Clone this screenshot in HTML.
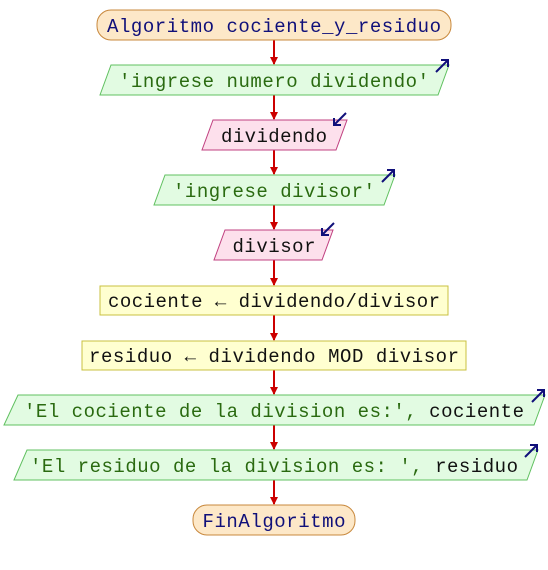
<!DOCTYPE html>
<html><head><meta charset="utf-8"><style>body{margin:0;background:#fff}svg{display:block}text{font-family:"Liberation Mono","DejaVu Sans Mono",monospace;font-size:19px;dominant-baseline:central;text-anchor:middle}</style></head><body>
<svg width="548" height="570" viewBox="0 0 548 570" xmlns="http://www.w3.org/2000/svg">
<defs><marker id="a" markerWidth="8" markerHeight="8" refX="7" refY="4" orient="auto" markerUnits="userSpaceOnUse"><path d="M0,0L8,4L0,8z" fill="#c00"/></marker></defs>
<g stroke="#c00" stroke-width="2" marker-end="url(#a)">
<line x1="274" y1="40" x2="274" y2="64"/><line x1="274" y1="95" x2="274" y2="119"/><line x1="274" y1="150" x2="274" y2="174"/><line x1="274" y1="205" x2="274" y2="229"/><line x1="274" y1="260" x2="274" y2="285"/><line x1="274" y1="315" x2="274" y2="340"/><line x1="274" y1="370" x2="274" y2="394"/><line x1="274" y1="425" x2="274" y2="449"/><line x1="274" y1="480" x2="274" y2="504"/>
</g>
<rect x="97" y="10" width="354" height="30" rx="14" fill="#fde8c8" stroke="#c8883c"/>
<text x="274" y="27" fill="#10107a" textLength="334" lengthAdjust="spacing">Algoritmo cociente_y_residuo</text>
<polygon points="111,65 449,65 438,95 100,95" fill="#e2fbe2" stroke="#60c060"/>
<text x="274" y="82" fill="#2a6a10" textLength="310" lengthAdjust="spacing">'ingrese numero dividendo'</text>
<polygon points="213,120 347,120 336,150 202,150" fill="#fde0ec" stroke="#c04080"/>
<text x="274" y="137" fill="#111" textLength="106" lengthAdjust="spacing">dividendo</text>
<polygon points="165,175 395,175 384,205 154,205" fill="#e2fbe2" stroke="#60c060"/>
<text x="274" y="192" fill="#2a6a10" textLength="202" lengthAdjust="spacing">'ingrese divisor'</text>
<polygon points="225,230 333,230 322,260 214,260" fill="#fde0ec" stroke="#c04080"/>
<text x="274" y="247" fill="#111" textLength="83" lengthAdjust="spacing">divisor</text>
<rect x="100" y="286" width="348" height="29" fill="#ffffd0" stroke="#c8c040"/>
<text x="274" y="302" fill="#111" textLength="332" lengthAdjust="spacing">cociente ← dividendo/divisor</text>
<rect x="82" y="341" width="384" height="29" fill="#ffffd0" stroke="#c8c040"/>
<text x="274" y="357" fill="#111" textLength="370" lengthAdjust="spacing">residuo ← dividendo MOD divisor</text>
<polygon points="18,395 545,395 534,425 4,425" fill="#e2fbe2" stroke="#60c060"/>
<text x="274" y="412" fill="#2a6a10" textLength="500" lengthAdjust="spacing">'El cociente de la division es:', <tspan fill="#111">cociente</tspan></text>
<polygon points="27,450 538,450 527,480 14,480" fill="#e2fbe2" stroke="#60c060"/>
<text x="274" y="467" fill="#2a6a10" textLength="488" lengthAdjust="spacing">'El residuo de la division es: ', <tspan fill="#111">residuo</tspan></text>
<rect x="193" y="505" width="162" height="30" rx="14" fill="#fde8c8" stroke="#c8883c"/>
<text x="274" y="522" fill="#10107a" textLength="143" lengthAdjust="spacing">FinAlgoritmo</text>
<g stroke="#10107a" stroke-width="2" fill="none">
<path d="M436,72L448,60M441,60h7v7"/><path d="M346,113L334,125M334,118v7h7"/>
<path d="M382,182L394,170M387,170h7v7"/><path d="M334,223L322,235M322,228v7h7"/>
<path d="M532,402L544,390M537,390h7v7"/><path d="M525,457L537,445M530,445h7v7"/>
</g>
</svg>
</body></html>
